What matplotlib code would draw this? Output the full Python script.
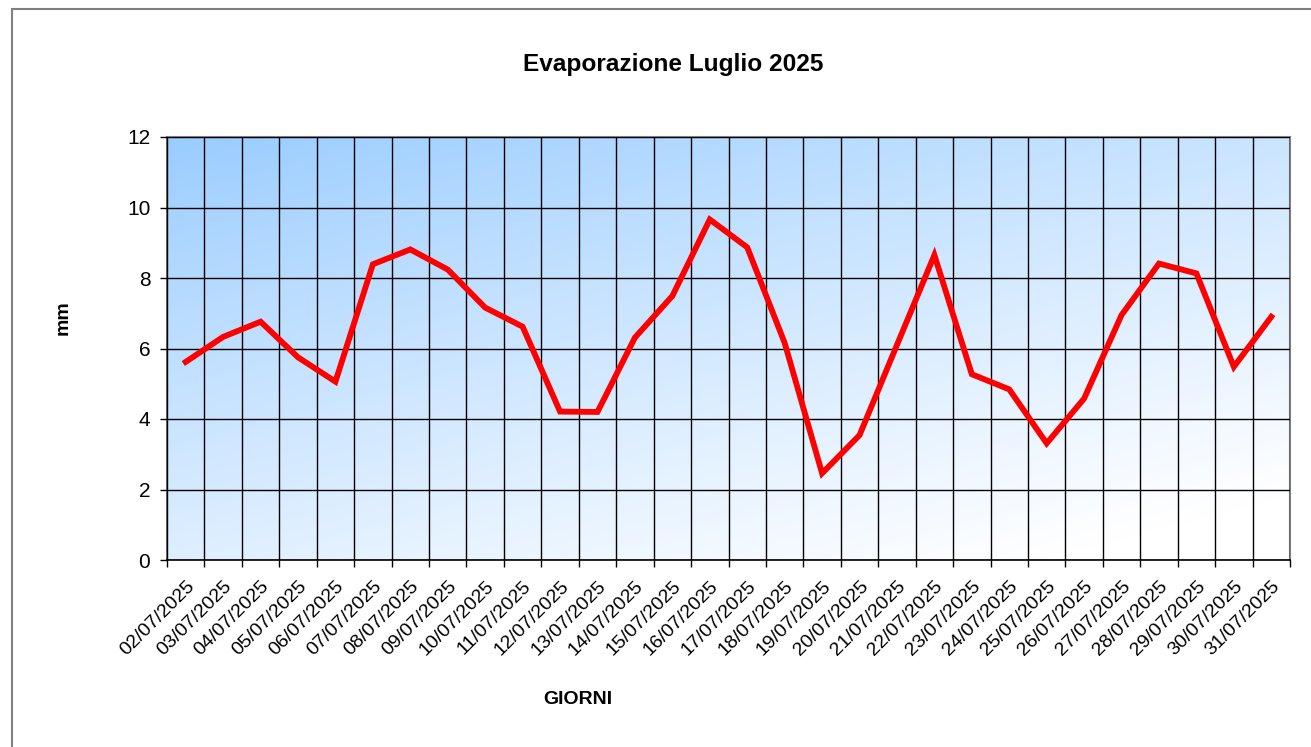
import numpy as np
import matplotlib
matplotlib.use("Agg")
import matplotlib.pyplot as plt
from matplotlib.patches import Rectangle

plt.rcParams['font.family'] = ['Liberation Sans', 'DejaVu Sans']

# dati evaporazione giornaliera (mm)
giorni = ["%02d/07/2025" % d for d in range(2, 32)]
evaporazione = [5.62, 6.33, 6.76, 5.75, 5.06, 8.39, 8.81, 8.24, 7.16, 6.62,
                4.21, 4.20, 6.31, 7.49, 9.66, 8.87, 6.16, 2.46, 3.54, 6.10,
                8.65, 5.27, 4.84, 3.31, 4.58, 6.95, 8.41, 8.13, 5.48, 6.90]
y_ticks = [0, 2, 4, 6, 8, 10, 12]

fig = plt.figure(figsize=(13.11, 7.47), dpi=100)
ax = fig.add_axes([167 / 1311, 1 - 560 / 747, 1123 / 1311, 423 / 747])

n = len(giorni)
x = np.arange(n)

# sfondo sfumato azzurro -> bianco
h, w = 200, 400
uu, vv = np.meshgrid(np.linspace(0, 1, w), np.linspace(0, 1, h))
t = np.clip(0.45 * uu + 0.65 * vv, 0, 1) ** 0.9
c0 = np.array([153, 204, 255]) / 255
c1 = np.array([255, 255, 255]) / 255
img = c0[None, None, :] * (1 - t[..., None]) + c1[None, None, :] * t[..., None]
ax.imshow(img, extent=(-0.5, n - 0.5, 0, 12), aspect='auto', zorder=0,
          interpolation='bilinear')

ax.plot(x, evaporazione, color='#ff0000', linewidth=4.2, zorder=3,
        solid_joinstyle='miter')

ax.set_xlim(-0.5, n - 0.5)
ax.set_ylim(0, 12)
ax.set_yticks(y_ticks)
ax.tick_params(axis='y', labelsize=15, length=5, width=1, color='black', pad=7)

# etichette al centro della categoria, tacche ai bordi
ax.set_xticks(x)
ax.set_xticklabels(giorni, rotation=45, ha='right', rotation_mode='anchor',
                   fontsize=14)
ax.tick_params(axis='x', which='major', length=0, pad=13)
ax.set_xticks(np.arange(-0.5, n), minor=True)
ax.tick_params(axis='x', which='minor', length=5, width=1, color='black')

ax.grid(True, axis='y', which='major', color='black', linewidth=1, zorder=1)
ax.grid(True, axis='x', which='minor', color='black', linewidth=1, zorder=1)
ax.grid(False, axis='x', which='major')
ax.set_axisbelow(False)

for side in ['top', 'right']:
    ax.spines[side].set_color('#808080')
    ax.spines[side].set_linewidth(1.5)
ax.spines['left'].set_color('#404040')
ax.spines['bottom'].set_color('black')
ax.spines['left'].set_linewidth(1.2)
ax.spines['bottom'].set_linewidth(1.2)

fig.text(673 / 1311, 1 - 65 / 747, "Evaporazione Luglio 2025", ha='center',
         va='center', fontsize=17.6, fontweight='bold')
fig.text(63 / 1311, 1 - 318 / 747, "mm", ha='center', va='center',
         rotation=90, fontsize=14, fontweight='bold')
fig.text(578 / 1311, 1 - 700 / 747, "GIORNI", ha='center', va='center',
         fontsize=14, fontweight='bold')

# cornice del grafico
fig.patches.append(Rectangle((12 / 1311, -0.01), 1.02 - 12 / 1311, 1.01 - 9 / 747,
                             transform=fig.transFigure, fill=False,
                             edgecolor='#808080', linewidth=1.5))

fig.savefig("out.png", dpi=100)
